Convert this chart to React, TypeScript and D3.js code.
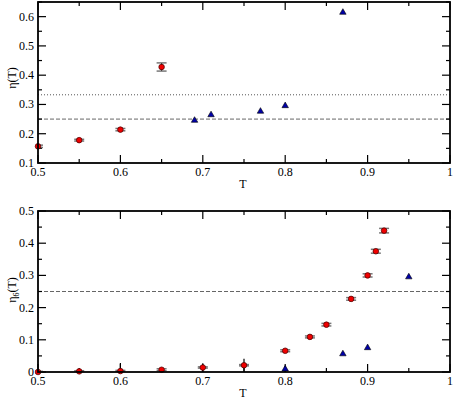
import React, {useRef, useEffect} from "react";
import * as d3 from "d3";

// top panel: eta(T)
const topCircT = [0.5, 0.55, 0.6, 0.65];
const topCircV = [0.157, 0.178, 0.214, 0.428];
const topCircErr = [0.004, 0.003, 0.004, 0.014];
const topTriT = [0.69, 0.71, 0.77, 0.8, 0.87];
const topTriV = [0.242, 0.261, 0.273, 0.292, 0.611];
const topDotted = 0.333;
const topDashed = 0.25;

// bottom panel: eta_6(T)
const botCircT = [0.5, 0.55, 0.6, 0.65, 0.7, 0.75, 0.8, 0.83, 0.85, 0.88, 0.9, 0.91, 0.92];
const botCircV = [0.0, 0.002, 0.003, 0.007, 0.014, 0.021, 0.066, 0.109, 0.147, 0.227, 0.3, 0.375, 0.439];
const botCircErr = [0.002, 0.002, 0.002, 0.003, 0.002, 0.002, 0.003, 0.003, 0.004, 0.004, 0.005, 0.006, 0.007];
const botBarErr = [0.002, 0.005, 0.025, 0.003, 0.013, 0.02, 0.003, 0.003, 0.003, 0.003, 0.004, 0.005, 0.006];
const botTriT = [0.8, 0.87, 0.9, 0.95];
const botTriV = [0.006, 0.053, 0.072, 0.292];
const botTriErr = [0.012, 0, 0, 0];
const botDashed = 0.25;

const xTicks = [0.5, 0.6, 0.7, 0.8, 0.9, 1.0];
const topYTicks = [0.1, 0.2, 0.3, 0.4, 0.5, 0.6];
const botYTicks = [0, 0.1, 0.2, 0.3, 0.4, 0.5];

const FONT = "Liberation Serif, DejaVu Serif, serif";

const App = () => {
  const svgRef = useRef(null);

  useEffect(() => {
    const svg = d3.select(svgRef.current);
    svg.selectAll("*").remove();

    const x = d3.scaleLinear().domain([0.5, 1.0]).range([38, 450]);
    const fmt = (v) => (v === 0 ? "0" : v === 1 ? "1" : d3.format(".1f")(v));

    function panel(opts) {
      const {y, yTicks, circT, circV, circErr, barErr, triT, triV, triErr, hlines, ylab, sub, labY, tLabY} = opts;
      const g = svg.append("g");
      const [y0, y1] = y.range();
      const clipId = "clip" + Math.round(y1);
      g.append("clipPath").attr("id", clipId)
        .append("rect").attr("x", 38).attr("y", y1).attr("width", 412).attr("height", y0 - y1);

      // reference lines
      hlines.forEach((h) => {
        g.append("line")
          .attr("x1", 38).attr("x2", 450)
          .attr("y1", y(h.v)).attr("y2", y(h.v))
          .attr("stroke", h.dash === "dot" ? "#555" : "#666")
          .attr("stroke-width", 1)
          .attr("stroke-dasharray", h.dash === "dot" ? "1,2" : "4,2");
      });

      // ticks
      const xMinor = d3.range(0.55, 1.0, 0.1);
      const yMinor = d3.range(y.domain()[0] + 0.05, y.domain()[1] + 1e-9, 0.1);
      const tk = g.append("g").attr("stroke", "black").attr("stroke-width", 1.2);
      xTicks.forEach((t) => {
        tk.append("line").attr("x1", x(t)).attr("x2", x(t)).attr("y1", y0).attr("y2", y0 - 8);
        tk.append("line").attr("x1", x(t)).attr("x2", x(t)).attr("y1", y1).attr("y2", y1 + 8);
      });
      xMinor.forEach((t) => {
        tk.append("line").attr("x1", x(t)).attr("x2", x(t)).attr("y1", y0).attr("y2", y0 - 4);
        tk.append("line").attr("x1", x(t)).attr("x2", x(t)).attr("y1", y1).attr("y2", y1 + 4);
      });
      yTicks.forEach((t) => {
        tk.append("line").attr("x1", 38).attr("x2", 46).attr("y1", y(t)).attr("y2", y(t));
        tk.append("line").attr("x1", 450).attr("x2", 442).attr("y1", y(t)).attr("y2", y(t));
      });
      yMinor.forEach((t) => {
        tk.append("line").attr("x1", 38).attr("x2", 42).attr("y1", y(t)).attr("y2", y(t));
        tk.append("line").attr("x1", 450).attr("x2", 446).attr("y1", y(t)).attr("y2", y(t));
      });

      // tick labels
      g.selectAll(".xl").data(xTicks).enter().append("text")
        .attr("x", (d) => x(d)).attr("y", y0 + 13)
        .attr("text-anchor", "middle").attr("font-family", FONT).attr("font-size", 12)
        .text(fmt);
      g.selectAll(".yl").data(yTicks).enter().append("text")
        .attr("x", 34).attr("y", (d) => y(d) + 4)
        .attr("text-anchor", "end").attr("font-family", FONT).attr("font-size", 12)
        .text(fmt);

      // axis titles
      g.append("text").attr("x", 243).attr("y", tLabY)
        .attr("text-anchor", "middle").attr("font-family", FONT).attr("font-size", 12).text("T");
      const yl = g.append("text")
        .attr("transform", `translate(16,${labY}) rotate(-90)`)
        .attr("text-anchor", "middle").attr("font-family", FONT).attr("font-size", 12);
      yl.append("tspan").text("η");
      if (sub) yl.append("tspan").attr("font-size", 8).attr("dy", 3).text(sub);
      yl.append("tspan").attr("dy", sub ? -3 : 0).text(ylab);

      const data = g.append("g").attr("clip-path", `url(#${clipId})`);
      // circle error bars
      circT.forEach((t, i) => {
        const e = circErr[i];
        const b = barErr[i];
        data.append("line").attr("x1", x(t)).attr("x2", x(t))
          .attr("y1", y(circV[i] - b)).attr("y2", y(circV[i] + b))
          .attr("stroke", "black").attr("stroke-width", 1.2);
        [circV[i] - e, circV[i] + e].forEach((v) => {
          data.append("line").attr("x1", x(t) - 5).attr("x2", x(t) + 5)
            .attr("y1", y(v)).attr("y2", y(v))
            .attr("stroke", "#777").attr("stroke-width", 1.5);
        });
      });
      triT.forEach((t, i) => {
        const e = triErr[i];
        if (e > 0) {
          data.append("line").attr("x1", x(t)).attr("x2", x(t))
            .attr("y1", y(triV[i] - e)).attr("y2", y(triV[i] + e))
            .attr("stroke", "black").attr("stroke-width", 1.2);
        }
      });

      const marks = g.append("g");
      const tri = d3.symbol().type(d3.symbolTriangle).size(18);
      marks.selectAll("path").data(triT).enter().append("path")
        .attr("d", tri)
        .attr("transform", (d, i) => `translate(${x(d)},${y(triV[i]) - 1})`)
        .attr("fill", "#0000a8").attr("stroke", "black").attr("stroke-width", 0.6);
      marks.selectAll("circle").data(circT).enter().append("circle")
        .attr("cx", (d) => x(d)).attr("cy", (d, i) => y(circV[i]))
        .attr("r", 2.8)
        .attr("fill", "#f00000").attr("stroke", "#400").attr("stroke-width", 0.7);

      // frame
      g.append("rect").attr("x", 38).attr("y", y1).attr("width", 412).attr("height", y0 - y1)
        .attr("fill", "none").attr("stroke", "black").attr("stroke-width", 1.8);
    }

    panel({
      y: d3.scaleLinear().domain([0.1, 0.65]).range([163, 2]),
      yTicks: topYTicks,
      circT: topCircT, circV: topCircV, circErr: topCircErr, barErr: topCircErr,
      triT: topTriT, triV: topTriV, triErr: topTriT.map(() => 0),
      hlines: [{v: topDotted, dash: "dot"}, {v: topDashed, dash: "dash"}],
      ylab: "(T)", sub: "", labY: 78, tLabY: 188,
    });
    panel({
      y: d3.scaleLinear().domain([0, 0.5]).range([372, 211]),
      yTicks: botYTicks,
      circT: botCircT, circV: botCircV, circErr: botCircErr, barErr: botBarErr,
      triT: botTriT, triV: botTriV, triErr: botTriErr,
      hlines: [{v: botDashed, dash: "dash"}],
      ylab: "(T)", sub: "6", labY: 290, tLabY: 397,
    });
  }, []);

  return (
    <svg ref={svgRef} width={453} height={399}
      style={{position: "absolute", left: 0, top: 0, background: "white"}}></svg>
  );
};

export default App;
